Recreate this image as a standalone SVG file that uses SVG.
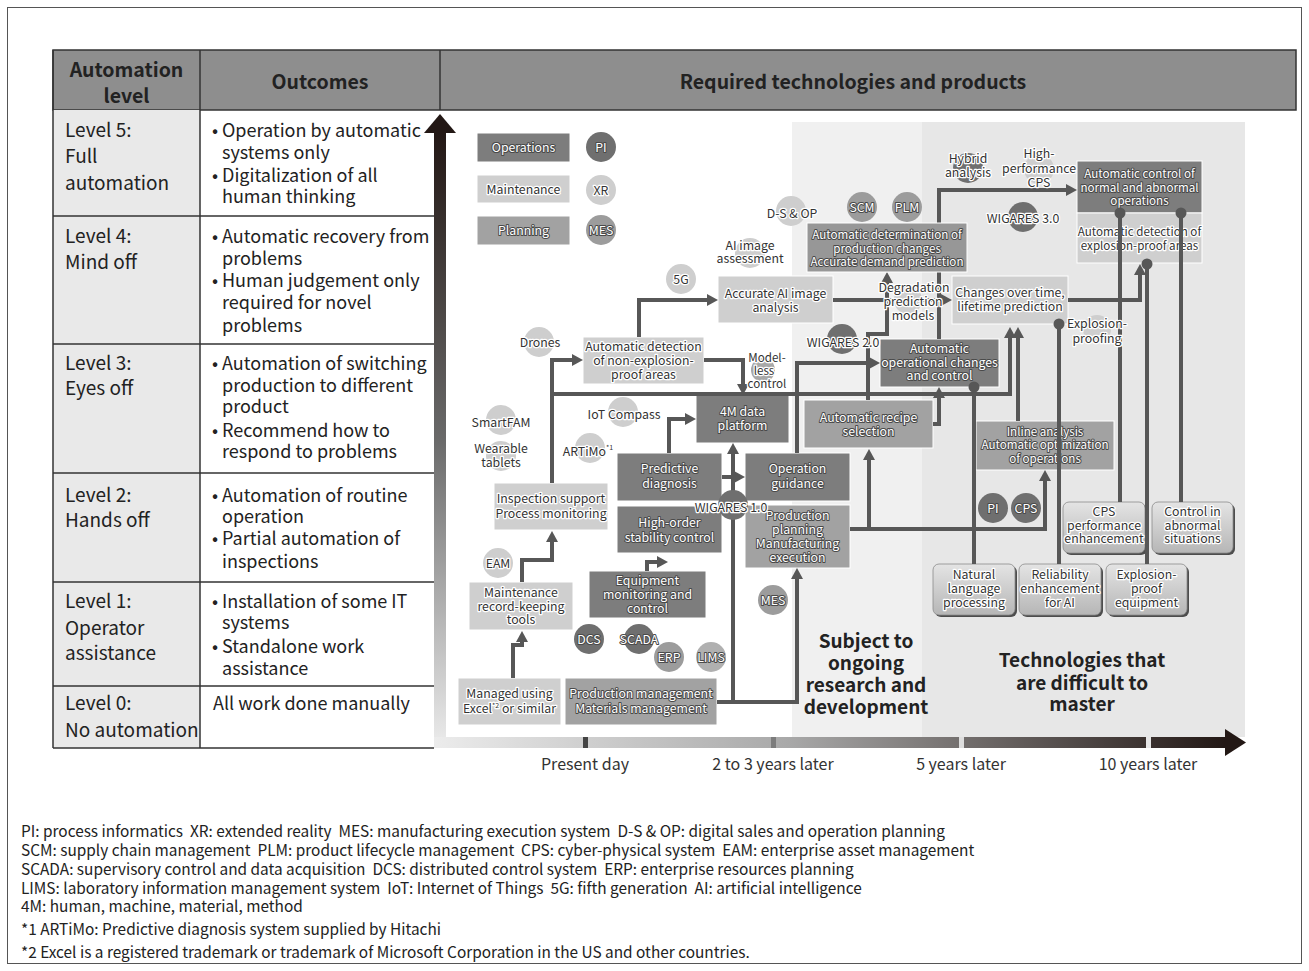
<svg xmlns="http://www.w3.org/2000/svg" width="1309" height="971" viewBox="0 0 1309 971">
<defs>
<style>
text{font-family:'Noto Sans CJK JP','Noto Sans',sans-serif}
.t{font-size:12.3px;text-anchor:middle}
.s{font-size:11.6px}
.tw{fill:#fff;stroke:#4a4a4a;stroke-width:2;paint-order:stroke;stroke-linejoin:round}
.td{fill:#333;stroke:#fff;stroke-width:2.5;paint-order:stroke;stroke-linejoin:round}
.op{fill:#7d7d7d;stroke:#fff;stroke-width:1}
.mt{fill:#cfcfcf;stroke:#fff;stroke-width:1}
.pl{fill:#a2a2a2;stroke:#fff;stroke-width:1}
.cdk{fill:#6f6f6f}
.cmd{fill:#9c9c9c}
.clt{fill:#cecece}
.btn{fill:url(#btn);stroke:#8a8a8a;stroke-width:0.8}
.sh{fill:#4d4d4d}
.conn{fill:none;stroke:#575757;stroke-width:4}
.arr{marker-end:url(#ah)}
.dotc{marker-end:url(#dot)}
.tbl{font-size:19px;fill:#222}
.oc{font-size:18px;fill:#222}
.hd{font-size:19.5px;font-weight:bold;fill:#222;text-anchor:middle}
.big{font-size:19px;font-weight:bold;fill:#222;text-anchor:middle}
.fn{font-size:15.4px;fill:#222}
.tl{font-size:16px;fill:#333;text-anchor:middle}
.line{stroke:#333;stroke-width:1.5}
</style>
<linearGradient id="btn" x1="0" y1="0" x2="0" y2="1"><stop offset="0" stop-color="#e4e4e4"/><stop offset="1" stop-color="#b6b6b6"/></linearGradient>
<linearGradient id="vax" x1="0" y1="0" x2="0" y2="1"><stop offset="0" stop-color="#231815"/><stop offset="0.5" stop-color="#6a6a6a"/><stop offset="1" stop-color="#ececec"/></linearGradient>
<linearGradient id="hax" x1="0" y1="0" x2="1" y2="0"><stop offset="0" stop-color="#ececec"/><stop offset="0.45" stop-color="#a8a8a8"/><stop offset="1" stop-color="#231815"/></linearGradient>
<marker id="ah" markerWidth="12" markerHeight="12" refX="0" refY="6" orient="auto" markerUnits="userSpaceOnUse"><path d="M0,0 L11,6 L0,12 z" fill="#575757"/></marker>
<marker id="dot" markerWidth="12" markerHeight="12" refX="6" refY="6" markerUnits="userSpaceOnUse"><circle cx="6" cy="6" r="5.5" fill="#575757"/></marker>
</defs>
<rect x="0" y="0" width="1309" height="971" fill="#fff"/>
<rect x="7.5" y="7.5" width="1294" height="956" fill="none" stroke="#555" stroke-width="1"/>

<!-- table -->
<g id="table">
<rect x="53" y="50" width="1243" height="60" fill="#8e8e8e" stroke="#333" stroke-width="1.5"/>
<rect x="53" y="110" width="147" height="638" fill="#e9e9e9"/>
<line class="line" x1="53" y1="50" x2="53" y2="748"/>
<line class="line" x1="200" y1="50" x2="200" y2="748"/>
<line class="line" x1="440" y1="50" x2="440" y2="110"/>
<line class="line" x1="53" y1="216" x2="434" y2="216"/>
<line class="line" x1="53" y1="344" x2="434" y2="344"/>
<line class="line" x1="53" y1="473" x2="434" y2="473"/>
<line class="line" x1="53" y1="582" x2="434" y2="582"/>
<line class="line" x1="53" y1="686" x2="434" y2="686"/>
<line class="line" x1="53" y1="748" x2="434" y2="748"/>
<text class="hd" x="126.5" y="77">Automation</text>
<text class="hd" x="126.5" y="103">level</text>
<text class="hd" x="320" y="89">Outcomes</text>
<text class="hd" x="853" y="89">Required technologies and products</text>
<g class="tbl">
<text x="65" y="137">Level 5:</text><text x="65" y="163">Full</text><text x="65" y="190">automation</text>
<text x="65" y="243">Level 4:</text><text x="65" y="269">Mind off</text>
<text x="65" y="370">Level 3:</text><text x="65" y="395">Eyes off</text>
<text x="65" y="502">Level 2:</text><text x="65" y="527">Hands off</text>
<text x="65" y="608">Level 1:</text><text x="65" y="635">Operator</text><text x="65" y="660">assistance</text>
<text x="65" y="710">Level 0:</text><text x="65" y="737">No automation</text>
</g>
<g class="oc">
<text x="212" y="137">•</text><text x="222" y="137">Operation by automatic</text><text x="222" y="159">systems only</text>
<text x="212" y="182">•</text><text x="222" y="182">Digitalization of all</text><text x="222" y="203">human thinking</text>
<text x="212" y="243">•</text><text x="222" y="243">Automatic recovery from</text><text x="222" y="265">problems</text>
<text x="212" y="287">•</text><text x="222" y="287">Human judgement only</text><text x="222" y="309">required for novel</text><text x="222" y="332">problems</text>
<text x="212" y="370">•</text><text x="222" y="370">Automation of switching</text><text x="222" y="392">production to different</text><text x="222" y="413">product</text>
<text x="212" y="437">•</text><text x="222" y="437">Recommend how to</text><text x="222" y="458">respond to problems</text>
<text x="212" y="502">•</text><text x="222" y="502">Automation of routine</text><text x="222" y="523">operation</text>
<text x="212" y="545">•</text><text x="222" y="545">Partial automation of</text><text x="222" y="568">inspections</text>
<text x="212" y="608">•</text><text x="222" y="608">Installation of some IT</text><text x="222" y="629">systems</text>
<text x="212" y="653">•</text><text x="222" y="653">Standalone work</text><text x="222" y="675">assistance</text>
<text x="213" y="710">All work done manually</text>
</g>
</g>

<!-- background zones -->
<g id="zones">
<rect x="792" y="122" width="130" height="615" fill="#f0f0f0"/>
<rect x="922" y="122" width="323" height="615" fill="#e7e7e7"/>
<text class="big" x="866" y="648">Subject to</text>
<text class="big" x="866" y="670">ongoing</text>
<text class="big" x="866" y="692">research and</text>
<text class="big" x="866" y="714">development</text>
<text class="big" x="1082" y="667">Technologies that</text>
<text class="big" x="1082" y="690">are difficult to</text>
<text class="big" x="1082" y="711">master</text>
</g>

<!-- axes -->
<g id="axes">
<rect x="434" y="133" width="12" height="615" fill="url(#vax)"/>
<polygon points="424,133 456,133 440,114" fill="#231815"/>
<rect x="434" y="737" width="791" height="11" fill="url(#hax)"/>
<polygon points="1225,729 1246,742.5 1225,756" fill="#231815"/>
<rect x="583" y="737" width="5" height="11" fill="#444"/>
<rect x="771" y="737" width="5" height="11" fill="#7c7c7c"/>
<rect x="959" y="737" width="5" height="11" fill="#dedede"/>
<rect x="1146" y="737" width="5" height="11" fill="#e6e6e6"/>
<text class="tl" x="585" y="770">Present day</text>
<text class="tl" x="773" y="770">2 to 3 years later</text>
<text class="tl" x="961" y="770">5 years later</text>
<text class="tl" x="1148" y="770">10 years later</text>
</g>

<!-- legend -->
<g id="legend-operations"><rect class="op" x="477" y="133" width="93" height="29"/><text class="t tw" x="523.5" y="152">Operations</text></g>
<g id="legend-maintenance"><rect class="mt" x="477" y="175" width="93" height="28"/><text class="t td" x="523.5" y="193.5">Maintenance</text></g>
<g id="legend-planning"><rect class="pl" x="477" y="216" width="93" height="29"/><text class="t tw" x="523.5" y="235">Planning</text></g>

<!-- box nodes -->
<g id="n-excel"><rect class="mt" x="458" y="678" width="103" height="47"/><text class="t td" x="509.5" y="697.5">Managed using</text><text class="t td" x="509.5" y="712.5">Excel<tspan font-size="7" dy="-5">*2</tspan><tspan dy="5"> or similar</tspan></text></g>
<g id="n-prodmgmt"><rect class="pl" x="565" y="678" width="152" height="47"/><text class="t tw" x="641" y="697.5">Production management</text><text class="t tw" x="641" y="712.5">Materials management</text></g>
<g id="n-maintrec"><rect class="mt" x="469" y="582" width="104" height="48"/><text class="t td" x="521" y="596.5">Maintenance</text><text class="t td" x="521" y="610.5">record-keeping</text><text class="t td" x="521" y="624">tools</text></g>
<g id="n-inspection"><rect class="mt" x="494" y="483" width="114" height="47"/><text class="t td" x="551" y="502.5">Inspection support</text><text class="t td" x="551" y="517.5">Process monitoring</text></g>
<g id="n-autodet-nonexp"><rect class="mt" x="583" y="337" width="121" height="47"/><text class="t td" x="643.5" y="350.5">Automatic detection</text><text class="t td" x="643.5" y="364.5">of non-explosion-</text><text class="t td" x="643.5" y="378.5">proof areas</text></g>
<g id="n-accai"><rect class="mt" x="718" y="276" width="115" height="47"/><text class="t td" x="775.5" y="297.5">Accurate AI image</text><text class="t td" x="775.5" y="311.5">analysis</text></g>
<g id="n-4m"><rect class="op" x="696" y="395" width="93" height="48"/><text class="t tw" x="742.5" y="415.5">4M data</text><text class="t tw" x="742.5" y="429.5">platform</text></g>
<g id="n-predictive"><rect class="op" x="617" y="453" width="105" height="48"/><text class="t tw" x="669.5" y="472.5">Predictive</text><text class="t tw" x="669.5" y="487.5">diagnosis</text></g>
<g id="n-highorder"><rect class="op" x="617" y="506" width="105" height="47"/><text class="t tw" x="669.5" y="526.5">High-order</text><text class="t tw" x="669.5" y="541.5">stability control</text></g>
<g id="n-equip"><rect class="op" x="589" y="571" width="117" height="47"/><text class="t tw" x="647.5" y="584.5">Equipment</text><text class="t tw" x="647.5" y="598.5">monitoring and</text><text class="t tw" x="647.5" y="612.5">control</text></g>
<g id="n-opguide"><rect class="op" x="745" y="453" width="105" height="48"/><text class="t tw" x="797.5" y="472.5">Operation</text><text class="t tw" x="797.5" y="487.5">guidance</text></g>
<g id="n-prodplan"><rect class="pl" x="745" y="505" width="105" height="63"/><text class="t tw" x="797.5" y="520">Production</text><text class="t tw" x="797.5" y="534">planning</text><text class="t tw" x="797.5" y="548">Manufacturing</text><text class="t tw" x="797.5" y="562">execution</text></g>
<g id="n-recipe"><rect class="pl" x="804" y="400" width="129" height="48"/><text class="t tw" x="868.5" y="421.5">Automatic recipe</text><text class="t tw" x="868.5" y="435.5">selection</text></g>
<g id="n-autoop"><rect class="op" x="880" y="339" width="119" height="48"/><text class="t tw" x="939.5" y="352.5">Automatic</text><text class="t tw" x="939.5" y="366.5">operational changes</text><text class="t tw" x="939.5" y="379.5">and control</text></g>
<g id="n-changes"><rect class="mt" x="952" y="276" width="116" height="48"/><text class="t td" x="1010" y="296.5">Changes over time,</text><text class="t td" x="1010" y="310.5">lifetime prediction</text></g>
<g id="n-autoctrl"><rect class="op" x="1077" y="161" width="125" height="52"/><text class="t s tw" x="1139.5" y="177.5">Automatic control of</text><text class="t s tw" x="1139.5" y="191.5">normal and abnormal</text><text class="t s tw" x="1139.5" y="204.5">operations</text></g>
<g id="n-autodet-exp"><rect class="mt" x="1077" y="213" width="125" height="50"/><text class="t s td" x="1139.5" y="235.5">Automatic detection of</text><text class="t s td" x="1139.5" y="249.5">explosion-proof areas</text></g>
<g id="n-inline"><rect class="pl" x="976" y="421" width="138" height="49"/><text class="t s tw" x="1045" y="435.5">Inline analysis</text><text class="t s tw" x="1045" y="448.5">Automatic optimization</text><text class="t s tw" x="1045" y="462.5">of operations</text></g>
<g id="n-cpsperf"><rect class="sh" x="1065" y="504" width="82" height="51" rx="6"/><rect class="btn" x="1063" y="502" width="82" height="51" rx="6"/><text class="t td" x="1104" y="515.5">CPS</text><text class="t td" x="1104" y="529.5">performance</text><text class="t td" x="1104" y="542.5">enhancement</text></g>
<g id="n-ctrlabn"><rect class="sh" x="1154" y="504" width="81" height="51" rx="6"/><rect class="btn" x="1152" y="502" width="81" height="51" rx="6"/><text class="t td" x="1192.5" y="515.5">Control in</text><text class="t td" x="1192.5" y="529.5">abnormal</text><text class="t td" x="1192.5" y="542.5">situations</text></g>
<g id="n-nlp"><rect class="sh" x="935" y="566" width="82" height="51" rx="6"/><rect class="btn" x="933" y="564" width="82" height="51" rx="6"/><text class="t td" x="974" y="578.5">Natural</text><text class="t td" x="974" y="592.5">language</text><text class="t td" x="974" y="606.5">processing</text></g>
<g id="n-reliab"><rect class="sh" x="1021" y="566" width="82" height="51" rx="6"/><rect class="btn" x="1019" y="564" width="82" height="51" rx="6"/><text class="t td" x="1060" y="578.5">Reliability</text><text class="t td" x="1060" y="592.5">enhancement</text><text class="t td" x="1060" y="606.5">for AI</text></g>
<g id="n-exequip"><rect class="sh" x="1108" y="566" width="81" height="51" rx="6"/><rect class="btn" x="1106" y="564" width="81" height="51" rx="6"/><text class="t td" x="1146.5" y="578.5">Explosion-</text><text class="t td" x="1146.5" y="592.5">proof</text><text class="t td" x="1146.5" y="606.5">equipment</text></g>

<!-- connectors -->
<g id="connectors" class="conn">
<path class="arr" d="M513,678 V645 H522 V642"/>
<path class="arr" d="M522,582 V560 H552 V542"/>
<path class="arr" d="M552,483 V360 H572"/>
<path class="arr" d="M552,394 H1010 V338"/>
<path class="arr" d="M639,337 V300 H707"/>
<path class="arr" d="M704,360 H743 V384"/>
<path class="arr" d="M669,453 V419 H685"/>
<path class="arr" d="M722,477 H734"/>
<path class="arr" d="M647,571 V562 H657"/>
<path class="arr" d="M733,702 V454"/>
<path class="arr" d="M717,702 H797 V579"/>
<path class="arr" d="M797,453 V363 H869"/>
<path class="arr" d="M850,529 H1045 V481"/>
<path class="arr" d="M869,529 V460"/>
<path class="arr" d="M868,400 V334 H887 V283"/>
<path class="arr" d="M933,424 H939 V398"/>
<path class="arr" d="M939,339 V190 H1066"/>
<path class="arr" d="M833,300 H941"/>
<path class="arr" d="M1018,421 V338"/>
<path class="arr" d="M1068,300 H1140 V275"/>
<path class="dotc" d="M974,564 V387"/>
<path class="dotc" d="M1059,564 V324"/>
<path class="dotc" d="M1120,502 V213"/>
<path class="dotc" d="M1181,502 V213"/>
<path class="dotc" d="M1147,564 V264"/>
</g>

<!-- box drawn over the line that runs behind it -->
<g id="n-autodeterm"><rect class="pl" x="807" y="223" width="160" height="49" style="fill:#979797"/><text class="t s tw" x="887" y="238.5">Automatic determination of</text><text class="t s tw" x="887" y="252.5">production changes</text><text class="t s tw" x="887" y="265.5">Accurate demand prediction</text></g>

<!-- circle label nodes -->
<g id="c-pi-legend"><circle class="cdk" cx="601" cy="147" r="15"/><text class="t tw" x="601" y="151.5">PI</text></g>
<g id="c-xr-legend"><circle class="clt" cx="601" cy="190" r="15"/><text class="t td" x="601" y="194.5">XR</text></g>
<g id="c-mes-legend"><circle class="cmd" cx="601" cy="230" r="15"/><text class="t tw" x="601" y="234.5">MES</text></g>
<g id="c-dsop"><circle class="clt" cx="791" cy="211" r="15"/><text class="t td" x="792" y="217.5">D-S &amp; OP</text></g>
<g id="c-aiimg"><circle class="clt" cx="750" cy="253" r="15"/><text class="t td" x="750" y="249.5">AI image</text><text class="t td" x="750" y="262.5">assessment</text></g>
<g id="c-5g"><circle class="clt" cx="681" cy="279" r="15"/><text class="t td" x="681" y="283.5">5G</text></g>
<g id="c-drones"><circle class="clt" cx="539" cy="342" r="15"/><text class="t td" x="540" y="346.5">Drones</text></g>
<g id="c-smartfam"><circle class="clt" cx="501" cy="420" r="15"/><text class="t td" x="501" y="426.5">SmartFAM</text></g>
<g id="c-wearable"><circle class="clt" cx="501" cy="456" r="15"/><text class="t td" x="501" y="452.5">Wearable</text><text class="t td" x="501" y="466.5">tablets</text></g>
<g id="c-iot"><circle class="clt" cx="623" cy="412" r="15"/><text class="t td" x="624" y="418.5">IoT Compass</text></g>
<g id="c-artimo"><circle class="clt" cx="590" cy="448" r="15"/><text class="t td" x="588" y="455.5">ARTiMo<tspan font-size="7" dy="-6">*1</tspan></text></g>
<g id="c-eam"><circle class="clt" cx="498" cy="563" r="15"/><text class="t td" x="498" y="567.5">EAM</text></g>
<g id="c-dcs"><circle class="cdk" cx="589" cy="639" r="15"/><text class="t tw" x="589" y="643.5">DCS</text></g>
<g id="c-scada"><circle class="cdk" cx="639" cy="639" r="15"/><text class="t tw" x="639" y="643.5">SCADA</text></g>
<g id="c-erp"><circle class="cmd" cx="669" cy="657" r="15"/><text class="t tw" x="669" y="661.5">ERP</text></g>
<g id="c-lims"><circle cx="711" cy="657" r="15" fill="#b0b0b0"/><text class="t tw" x="711" y="661.5">LIMS</text></g>
<g id="c-mes"><circle class="cmd" cx="773" cy="600" r="15"/><text class="t tw" x="773" y="604.5">MES</text></g>
<g id="c-wig1"><circle class="cdk" cx="733" cy="505" r="15"/><text class="t td" x="731" y="511.5">WIGARES 1.0</text></g>
<g id="c-modelless"><circle cx="763" cy="370" r="12" fill="#a8a8a8"/><text class="t s td" x="767" y="362">Model-</text><text class="t s td" x="764" y="375">less</text><text class="t s td" x="767" y="388">control</text></g>
<g id="c-scm"><circle class="cmd" cx="862" cy="207" r="15"/><text class="t tw" x="862" y="211.5">SCM</text></g>
<g id="c-plm"><circle class="cmd" cx="907" cy="207" r="15"/><text class="t tw" x="907" y="211.5">PLM</text></g>
<g id="c-wig2"><circle class="cdk" cx="842" cy="339" r="15"/><text class="t td" x="843" y="346.5">WIGARES 2.0</text></g>
<g id="c-degrad"><circle class="clt" cx="908" cy="300" r="14"/><text class="t td" x="914" y="291.5">Degradation</text><text class="t td" x="913" y="305.5">prediction</text><text class="t td" x="913" y="319.5">models</text></g>
<g id="c-hybrid"><circle class="cdk" cx="968" cy="168" r="15"/><text class="t td" x="968" y="162.5">Hybrid</text><text class="t td" x="968" y="176.5">analysis</text></g>
<g id="c-hpcps"><circle class="clt" cx="1039" cy="169" r="15"/><text class="t td" x="1039" y="157.5">High-</text><text class="t td" x="1039" y="172.5">performance</text><text class="t td" x="1039" y="186.5">CPS</text></g>
<g id="c-wig3"><circle class="cdk" cx="1023" cy="217" r="15"/><text class="t td" x="1023" y="222.5">WIGARES 3.0</text></g>
<g id="c-exproofing"><circle class="clt" cx="1097" cy="329" r="14"/><text class="t td" x="1097" y="327.5">Explosion-</text><text class="t td" x="1097" y="342.5">proofing</text></g>
<g id="c-pi"><circle class="cdk" cx="993" cy="508" r="15"/><text class="t tw" x="993" y="512.5">PI</text></g>
<g id="c-cps"><circle class="cdk" cx="1026" cy="508" r="15"/><text class="t tw" x="1026" y="512.5">CPS</text></g>

<!-- footnotes -->
<g id="footnotes" class="fn">
<text x="21" y="837" xml:space="preserve">PI: process informatics  XR: extended reality  MES: manufacturing execution system  D-S &amp; OP: digital sales and operation planning</text>
<text x="21" y="856" xml:space="preserve">SCM: supply chain management  PLM: product lifecycle management  CPS: cyber-physical system  EAM: enterprise asset management</text>
<text x="21" y="875" xml:space="preserve">SCADA: supervisory control and data acquisition  DCS: distributed control system  ERP: enterprise resources planning</text>
<text x="21" y="894" xml:space="preserve">LIMS: laboratory information management system  IoT: Internet of Things  5G: fifth generation  AI: artificial intelligence</text>
<text x="21" y="912">4M: human, machine, material, method</text>
<text x="21" y="935">*1 ARTiMo: Predictive diagnosis system supplied by Hitachi</text>
<text x="21" y="958">*2 Excel is a registered trademark or trademark of Microsoft Corporation in the US and other countries.</text>
</g>
</svg>
